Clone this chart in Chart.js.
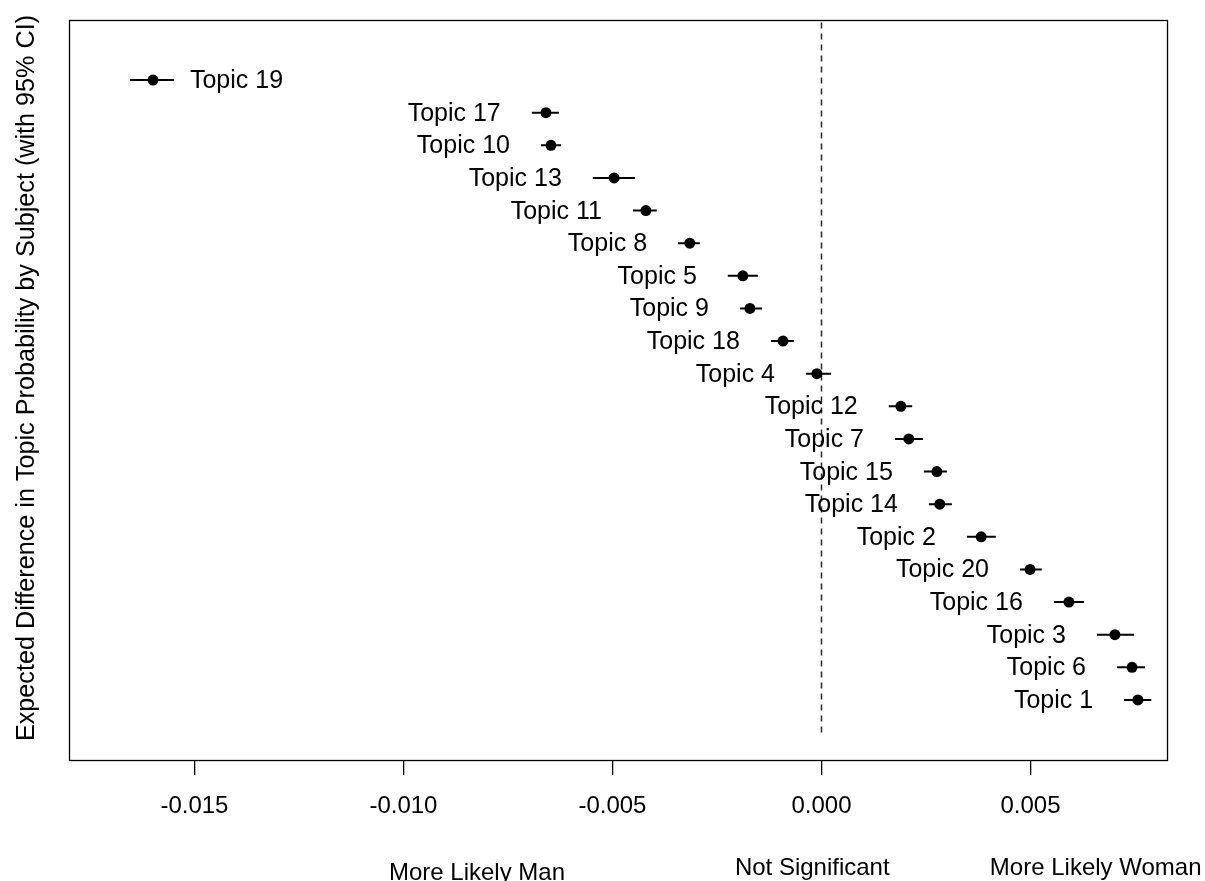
<!DOCTYPE html>
<html>
<head>
<meta charset="utf-8">
<script src="https://cdn.jsdelivr.net/npm/chart.js@4.4.1/dist/chart.umd.min.js"></script>
<style>
  html, body { margin: 0; padding: 0; background: #fff; }
  #wrap { width: 1205px; height: 881px; position: relative; }
</style>
</head>
<body>
<div id="wrap"><canvas id="effects"></canvas></div>
<script>
// topics from top row to bottom row
const topics = [
  'Topic 19', 'Topic 17', 'Topic 10', 'Topic 13', 'Topic 11', 'Topic 8', 'Topic 5',
  'Topic 9', 'Topic 18', 'Topic 4', 'Topic 12', 'Topic 7', 'Topic 15', 'Topic 14',
  'Topic 2', 'Topic 20', 'Topic 16', 'Topic 3', 'Topic 6', 'Topic 1'
];
const estimates = [
  -0.01599, -0.00659, -0.00647, -0.00496, -0.00420, -0.00315, -0.00188,
  -0.00171, -0.00092, -0.00011, 0.00190, 0.00209, 0.00276, 0.00283,
  0.00382, 0.00499, 0.00592, 0.00702, 0.00743, 0.00757
];
const ciLower = [
  -0.01654, -0.00693, -0.00671, -0.00547, -0.00451, -0.00343, -0.00224,
  -0.00195, -0.00121, -0.00037, 0.00161, 0.00176, 0.00245, 0.00257,
  0.00348, 0.00475, 0.00556, 0.00659, 0.00707, 0.00724
];
const ciUpper = [
  -0.01549, -0.00628, -0.00623, -0.00446, -0.00394, -0.00291, -0.00152,
  -0.00142, -0.00066, 0.00023, 0.00217, 0.00243, 0.00300, 0.00312,
  0.00417, 0.00527, 0.00628, 0.00748, 0.00774, 0.00789
];
const xTicks = [-0.015, -0.010, -0.005, 0.000, 0.005];
const yTitle = 'Expected Difference in Topic Probability by Subject (with 95% CI)';
const sideNotes = ['More Likely Man', 'Not Significant', 'More Likely Woman'];
const sideNoteAt = [-0.00824, -0.00022, 0.00656];

const FONT = '"Liberation Sans", Arial, sans-serif';
const rowPos = topics.map((t, i) => topics.length - i);

const pointData = estimates.map((v, i) => ({ x: v, y: rowPos[i] }));
const ciData = [];
ciLower.forEach((lo, i) => {
  ciData.push({ x: lo, y: rowPos[i] });
  ciData.push({ x: ciUpper[i], y: rowPos[i] });
  ciData.push({ x: ciUpper[i], y: null });
});

const decorPlugin = {
  id: 'decor',
  beforeDatasetsDraw(chart) {
    const { ctx, chartArea, scales: { x, y } } = chart;
    const zx = Math.round(x.getPixelForValue(0)) + 0.5;
    ctx.save();
    ctx.beginPath();
    ctx.rect(chartArea.left, chartArea.top, chartArea.right - chartArea.left, chartArea.bottom - chartArea.top);
    ctx.clip();
    ctx.strokeStyle = '#333';
    ctx.lineWidth = 1.6;
    ctx.setLineDash([6, 5]);
    ctx.beginPath();
    ctx.moveTo(zx, y.getPixelForValue(0));
    ctx.lineTo(zx, chartArea.top);
    ctx.stroke();
    ctx.restore();
  },
  afterDraw(chart) {
    const { ctx, chartArea, scales: { x, y } } = chart;
    ctx.save();
    // box
    ctx.strokeStyle = '#000';
    ctx.lineWidth = 1.3;
    ctx.strokeRect(chartArea.left + 0.5, chartArea.top + 0.5,
      chartArea.right - chartArea.left - 1, chartArea.bottom - chartArea.top);

    // topic labels
    ctx.fillStyle = '#000';
    ctx.font = '25px ' + FONT;
    ctx.textBaseline = 'alphabetic';
    topics.forEach((t, i) => {
      const py = y.getPixelForValue(rowPos[i]) + 8;
      if (i === 0) {
        ctx.textAlign = 'left';
        ctx.fillText(t, x.getPixelForValue(ciUpper[i]) + 16, py);
      } else {
        ctx.textAlign = 'right';
        ctx.fillText(t, x.getPixelForValue(ciLower[i]) - 31, py);
      }
    });

    // notes under the axis
    ctx.font = '24px ' + FONT;
    ctx.textAlign = 'center';
    sideNotes.forEach((s, i) => {
      const base = i === 0 ? 880 : 875;
      ctx.fillText(s, x.getPixelForValue(sideNoteAt[i]), base);
    });

    // y title
    ctx.translate(34, (chartArea.top + chartArea.bottom) / 2 - 12);
    ctx.rotate(-Math.PI / 2);
    ctx.font = '25.2px ' + FONT;
    ctx.textAlign = 'center';
    ctx.fillText(yTitle, 0, 0);
    ctx.restore();
  }
};

new Chart(document.getElementById('effects'), {
  type: 'scatter',
  data: {
    datasets: [
      {
        type: 'line', label: 'ci', data: ciData,
        borderColor: '#000', borderWidth: 2, pointRadius: 0,
        spanGaps: false, fill: false, order: 2,
      },
      {
        type: 'scatter', label: 'estimate', data: pointData,
        backgroundColor: '#000', borderColor: '#000',
        pointRadius: 5.5, borderWidth: 0, order: 1,
      },
    ],
  },
  options: {
    responsive: true, maintainAspectRatio: false,
    animation: false,
    layout: { padding: { left: 69, top: 20, right: 37, bottom: 0 } },
    plugins: { legend: { display: false }, tooltip: { enabled: false } },
    scales: {
      x: {
        type: 'linear', min: -0.01800, max: 0.00829,
        afterBuildTicks: scale => { scale.ticks = xTicks.map(v => ({ value: v })); },
        afterFit: scale => { scale.height = 121; },
        ticks: {
          color: '#000', padding: 17, maxRotation: 0,
          font: { family: FONT, size: 24 },
          callback: v => v.toFixed(3),
        },
        grid: { display: true, drawOnChartArea: false, drawTicks: true, tickLength: 15, color: '#000', lineWidth: 1.3 },
        border: { display: false },
      },
      y: {
        type: 'linear', min: -0.84, max: 21.84, display: false,
      },
    },
  },
  plugins: [decorPlugin],
});
</script>
</body>
</html>
